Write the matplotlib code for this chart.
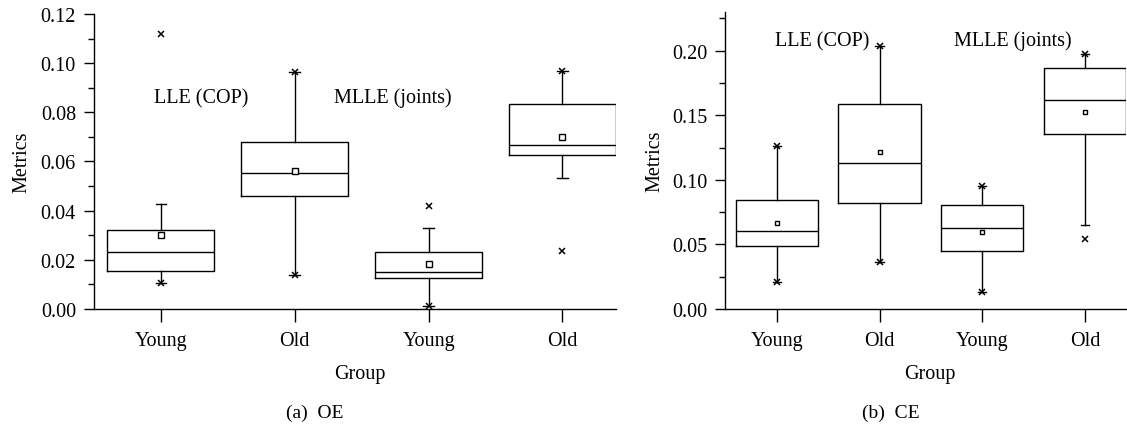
import numpy as np
import matplotlib.pyplot as plt
from matplotlib.ticker import MultipleLocator, FormatStrFormatter

plt.rcParams['font.family'] = ['Liberation Serif', 'DejaVu Serif']

groups = ['Young', 'Old', 'Young', 'Old']

# (a) OE: box statistics
oe_q1 = [0.0154, 0.0458, 0.0126, 0.0628]
oe_med = [0.0230, 0.0554, 0.0152, 0.0665]
oe_q3 = [0.0322, 0.0681, 0.0230, 0.0835]
oe_mean = [0.0299, 0.0561, 0.0181, 0.0701]
oe_lo = [0.0106, 0.0138, 0.0012, 0.0532]
oe_hi = [0.0429, 0.0963, 0.0329, 0.0966]
oe_marks = [[0.0106, 0.1117], [0.0138, 0.0963], [0.0012, 0.0420], [0.0236, 0.0966]]

# (b) CE
ce_q1 = [0.0484, 0.0820, 0.0448, 0.1356]
ce_med = [0.0603, 0.1133, 0.0624, 0.1615]
ce_q3 = [0.0846, 0.1589, 0.0805, 0.1868]
ce_mean = [0.0668, 0.1213, 0.0598, 0.1527]
ce_lo = [0.0212, 0.0367, 0.0132, 0.0647]
ce_hi = [0.1260, 0.2034, 0.0955, 0.1974]
ce_marks = [[0.0212, 0.1260], [0.0367, 0.2034], [0.0132, 0.0955], [0.0543, 0.1974]]

methods = ['LLE (COP)', 'MLLE (joints)']

FS = 14.5


def make_stats(q1, med, q3, mean, lo, hi, marks):
    stats = []
    for i in range(len(q1)):
        stats.append(dict(q1=q1[i], med=med[i], q3=q3[i], mean=mean[i],
                          whislo=lo[i], whishi=hi[i], fliers=np.array(marks[i])))
    return stats


fig = plt.figure(figsize=(11.27, 4.27), dpi=100)
ax1 = fig.add_axes([0.0834, 0.274, 0.4632, 0.691])
ax2 = fig.add_axes([0.6437, 0.274, 0.3554, 0.6956])

panels = [
    (ax1, make_stats(oe_q1, oe_med, oe_q3, oe_mean, oe_lo, oe_hi, oe_marks),
     0.12, 0.02, 0.01, [(0.95, 0.086), (2.29, 0.086)], -0.12, 4.2),
    (ax2, make_stats(ce_q1, ce_med, ce_q3, ce_mean, ce_lo, ce_hi, ce_marks),
     0.23, 0.05, 0.025, [(0.98, 0.208), (2.73, 0.208)], -0.152, 3.4),
]

for ax, stats, ytop, major, minor, text_pos, ylab_x, msize in panels:
    line = dict(color='black', linewidth=1.0)
    ax.bxp(stats, positions=[1, 2, 3, 4], widths=0.8, capwidths=0.08,
           showmeans=True, patch_artist=False,
           boxprops=line, whiskerprops=line, capprops=line, medianprops=line,
           meanprops=dict(marker='s', markerfacecolor='white', markeredgecolor='black',
                          markersize=msize, markeredgewidth=1.0),
           flierprops=dict(marker='x', markeredgecolor='black', markersize=4.5,
                           markeredgewidth=1.1, linestyle='none'))
    ax.set_xlim(0.5, 4.4)
    ax.set_ylim(0, ytop)
    ax.set_xticks([1, 2, 3, 4])
    ax.set_xticklabels(groups)
    ax.yaxis.set_major_locator(MultipleLocator(major))
    ax.yaxis.set_minor_locator(MultipleLocator(minor))
    ax.yaxis.set_major_formatter(FormatStrFormatter('%.2f'))
    for side in ['top', 'right']:
        ax.spines[side].set_visible(False)
    for side in ['left', 'bottom']:
        ax.spines[side].set_linewidth(1.0)
    ax.tick_params(axis='y', which='major', direction='out', length=7, width=1,
                   pad=6, labelsize=FS)
    ax.tick_params(axis='y', which='minor', direction='out', length=4, width=1)
    ax.tick_params(axis='x', which='major', direction='out', length=9, width=1,
                   pad=7, labelsize=FS)
    ax.set_ylabel('Metrics', fontsize=FS)
    ax.yaxis.set_label_coords(ylab_x, 0.5)
    ax.set_xlabel('Group', fontsize=FS)
    ax.xaxis.set_label_coords(0.51, -0.186)
    for (tx, ty), name in zip(text_pos, methods):
        ax.text(tx, ty, name, ha='left', va='center', fontsize=FS)

fig.text(0.279, 0.033, '(a)  OE', ha='center', va='center', fontsize=14)
fig.text(0.79, 0.033, '(b)  CE', ha='center', va='center', fontsize=14)

fig.savefig('out.png', dpi=100)
